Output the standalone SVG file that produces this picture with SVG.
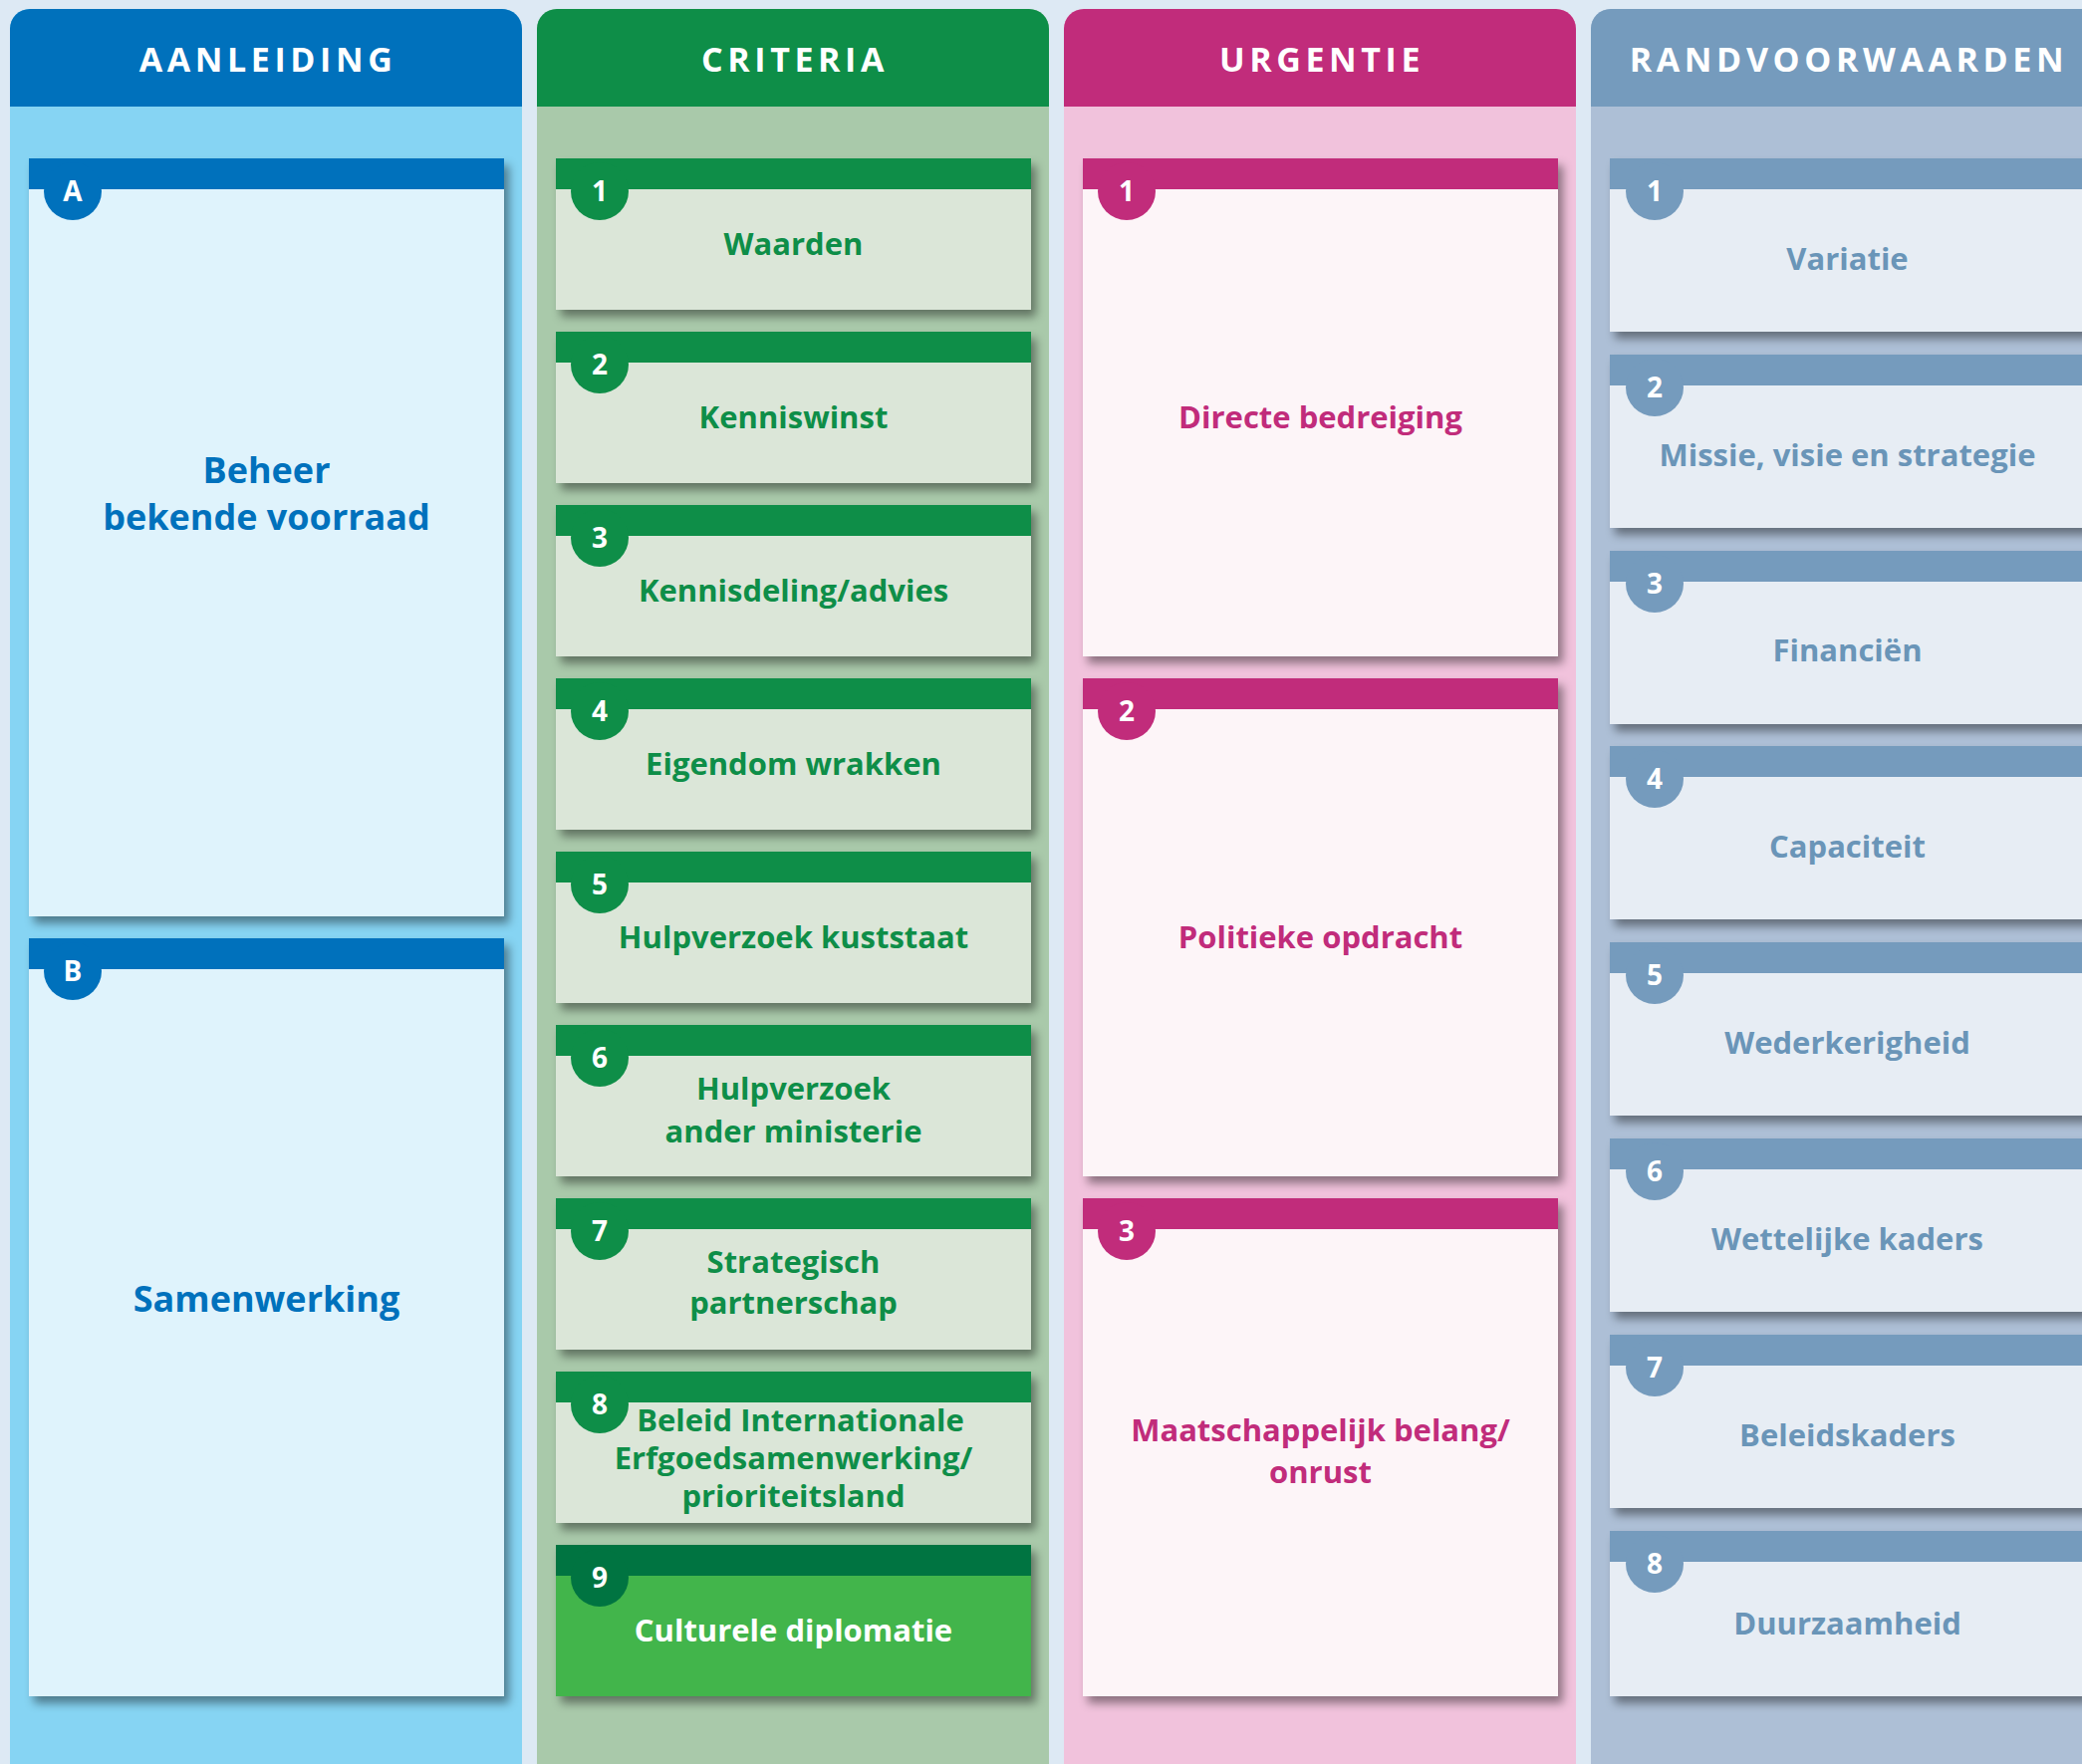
<svg xmlns="http://www.w3.org/2000/svg" width="2090" height="1771" viewBox="0 0 2090 1771">
<defs>
<style>
text{font-family:"Open Sans","Liberation Sans",sans-serif;font-weight:700;text-anchor:middle}
.hd{font-size:34px;letter-spacing:4.6px;fill:#fff}
.num{font-size:28px;fill:#fff}
.lb{font-size:31px}
.lb1{font-size:36px;fill:#0071bc}
.c1b{fill:#86d4f3}.c1h{fill:#0071bc}.c1c{fill:#dff3fc}
.c2b{fill:#a9c9aa}.c2h{fill:#0e8e48}.c2c{fill:#dbe6d8}
.c3b{fill:#f1c2dc}.c3h{fill:#c12c7b}.c3c{fill:#fdf5f8}
.c4b{fill:#adbfd6}.c4h{fill:#759bbd}.c4c{fill:#e7edf4}
.t2{fill:#0e8e48}.t3{fill:#c12c7b}.t4{fill:#6a95b8}
</style>
<filter id="sh" x="-10%" y="-10%" width="130%" height="140%">
<feDropShadow dx="5" dy="7" stdDeviation="5" flood-color="#000" flood-opacity="0.42"/>
</filter>
</defs>
<rect width="2090" height="1771" fill="#dde9f4"/>

<g id="col-aanleiding">
<path class="c1b" d="M10,1771V29A20,20 0 0 1 30,9H504A20,20 0 0 1 524,29V1771Z"/>
<path class="c1h" d="M10,107V29A20,20 0 0 1 30,9H504A20,20 0 0 1 524,29V107Z"/>
<text class="hd" x="269" y="72">AANLEIDING</text>
</g>
<g id="col-criteria">
<path class="c2b" d="M539,1771V29A20,20 0 0 1 559,9H1033A20,20 0 0 1 1053,29V1771Z"/>
<path class="c2h" d="M539,107V29A20,20 0 0 1 559,9H1033A20,20 0 0 1 1053,29V107Z"/>
<text class="hd" x="798" y="72">CRITERIA</text>
</g>
<g id="col-urgentie">
<path class="c3b" d="M1068,1771V29A20,20 0 0 1 1088,9H1562A20,20 0 0 1 1582,29V1771Z"/>
<path class="c3h" d="M1068,107V29A20,20 0 0 1 1088,9H1562A20,20 0 0 1 1582,29V107Z"/>
<text class="hd" x="1327" y="72">URGENTIE</text>
</g>
<g id="col-randvoorwaarden">
<path class="c4b" d="M1597,1771V29A20,20 0 0 1 1617,9H2091A20,20 0 0 1 2111,29V1771Z"/>
<path class="c4h" d="M1597,107V29A20,20 0 0 1 1617,9H2091A20,20 0 0 1 2111,29V107Z"/>
<text class="hd" x="1856" y="72">RANDVOORWAARDEN</text>
</g>

<g id="connectors"/>

<!-- Column 1 -->
<g id="a-A">
<rect class="c1c" x="29" y="159" width="477" height="761" filter="url(#sh)"/>
<rect class="c1h" x="29" y="159" width="477" height="31"/>
<circle class="c1h" cx="73" cy="192" r="29"/>
<text class="num" x="73" y="202">A</text>
<text class="lb1" x="267.5" y="485">Beheer</text>
<text class="lb1" x="267.5" y="532">bekende voorraad</text>
</g>
<g id="a-B">
<rect class="c1c" x="29" y="942" width="477" height="761" filter="url(#sh)"/>
<rect class="c1h" x="29" y="942" width="477" height="31"/>
<circle class="c1h" cx="73" cy="975" r="29"/>
<text class="num" x="73" y="985">B</text>
<text class="lb1" x="267.5" y="1317">Samenwerking</text>
</g>

<!-- Column 2 -->
<g id="c-1">
<rect class="c2c" x="558" y="159" width="477" height="152" filter="url(#sh)"/>
<rect class="c2h" x="558" y="159" width="477" height="31"/>
<circle class="c2h" cx="602" cy="192" r="29"/>
<text class="num" x="602" y="202">1</text>
<text class="lb t2" x="796.5" y="256">Waarden</text>
</g>
<g id="c-2">
<rect class="c2c" x="558" y="333" width="477" height="152" filter="url(#sh)"/>
<rect class="c2h" x="558" y="333" width="477" height="31"/>
<circle class="c2h" cx="602" cy="366" r="29"/>
<text class="num" x="602" y="376">2</text>
<text class="lb t2" x="796.5" y="430">Kenniswinst</text>
</g>
<g id="c-3">
<rect class="c2c" x="558" y="507" width="477" height="152" filter="url(#sh)"/>
<rect class="c2h" x="558" y="507" width="477" height="31"/>
<circle class="c2h" cx="602" cy="540" r="29"/>
<text class="num" x="602" y="550">3</text>
<text class="lb t2" x="796.5" y="604">Kennisdeling/advies</text>
</g>
<g id="c-4">
<rect class="c2c" x="558" y="681" width="477" height="152" filter="url(#sh)"/>
<rect class="c2h" x="558" y="681" width="477" height="31"/>
<circle class="c2h" cx="602" cy="714" r="29"/>
<text class="num" x="602" y="724">4</text>
<text class="lb t2" x="796.5" y="778">Eigendom wrakken</text>
</g>
<g id="c-5">
<rect class="c2c" x="558" y="855" width="477" height="152" filter="url(#sh)"/>
<rect class="c2h" x="558" y="855" width="477" height="31"/>
<circle class="c2h" cx="602" cy="888" r="29"/>
<text class="num" x="602" y="898">5</text>
<text class="lb t2" x="796.5" y="952">Hulpverzoek kuststaat</text>
</g>
<g id="c-6">
<rect class="c2c" x="558" y="1029" width="477" height="152" filter="url(#sh)"/>
<rect class="c2h" x="558" y="1029" width="477" height="31"/>
<circle class="c2h" cx="602" cy="1062" r="29"/>
<text class="num" x="602" y="1072">6</text>
<text class="lb t2" x="796.5" y="1104">Hulpverzoek</text>
<text class="lb t2" x="796.5" y="1147">ander ministerie</text>
</g>
<g id="c-7">
<rect class="c2c" x="558" y="1203" width="477" height="152" filter="url(#sh)"/>
<rect class="c2h" x="558" y="1203" width="477" height="31"/>
<circle class="c2h" cx="602" cy="1236" r="29"/>
<text class="num" x="602" y="1246">7</text>
<text class="lb t2" x="796.5" y="1278">Strategisch</text>
<text class="lb t2" x="796.5" y="1319">partnerschap</text>
</g>
<g id="c-8">
<rect class="c2c" x="558" y="1377" width="477" height="152" filter="url(#sh)"/>
<rect class="c2h" x="558" y="1377" width="477" height="31"/>
<circle class="c2h" cx="602" cy="1410" r="29"/>
<text class="num" x="602" y="1420">8</text>
<text class="lb t2" x="803.5" y="1437">Beleid Internationale</text>
<text class="lb t2" x="796.5" y="1475">Erfgoedsamenwerking/</text>
<text class="lb t2" x="796.5" y="1513">prioriteitsland</text>
</g>
<g id="c-9">
<rect x="558" y="1551" width="477" height="152" fill="#43b54b" filter="url(#sh)"/>
<rect x="558" y="1551" width="477" height="31" fill="#007441"/>
<circle cx="602" cy="1584" r="29" fill="#007441"/>
<text class="num" x="602" y="1594">9</text>
<text class="lb" x="796.5" y="1648" fill="#fff">Culturele diplomatie</text>
</g>

<!-- Column 3 -->
<g id="u-1">
<rect class="c3c" x="1087" y="159" width="477" height="500" filter="url(#sh)"/>
<rect class="c3h" x="1087" y="159" width="477" height="31"/>
<circle class="c3h" cx="1131" cy="192" r="29"/>
<text class="num" x="1131" y="202">1</text>
<text class="lb t3" x="1325.5" y="430">Directe bedreiging</text>
</g>
<g id="u-2">
<rect class="c3c" x="1087" y="681" width="477" height="500" filter="url(#sh)"/>
<rect class="c3h" x="1087" y="681" width="477" height="31"/>
<circle class="c3h" cx="1131" cy="714" r="29"/>
<text class="num" x="1131" y="724">2</text>
<text class="lb t3" x="1325.5" y="952">Politieke opdracht</text>
</g>
<g id="u-3">
<rect class="c3c" x="1087" y="1203" width="477" height="500" filter="url(#sh)"/>
<rect class="c3h" x="1087" y="1203" width="477" height="31"/>
<circle class="c3h" cx="1131" cy="1236" r="29"/>
<text class="num" x="1131" y="1246">3</text>
<text class="lb t3" x="1325.5" y="1447">Maatschappelijk belang/</text>
<text class="lb t3" x="1325.5" y="1489">onrust</text>
</g>

<!-- Column 4 -->
<g id="r-1">
<rect class="c4c" x="1616" y="159" width="477" height="174" filter="url(#sh)"/>
<rect class="c4h" x="1616" y="159" width="477" height="31"/>
<circle class="c4h" cx="1661" cy="192" r="29"/>
<text class="num" x="1661" y="202">1</text>
<text class="lb t4" x="1854.5" y="271">Variatie</text>
</g>
<g id="r-2">
<rect class="c4c" x="1616" y="356" width="477" height="174" filter="url(#sh)"/>
<rect class="c4h" x="1616" y="356" width="477" height="31"/>
<circle class="c4h" cx="1661" cy="389" r="29"/>
<text class="num" x="1661" y="399">2</text>
<text class="lb t4" x="1854.5" y="468">Missie, visie en strategie</text>
</g>
<g id="r-3">
<rect class="c4c" x="1616" y="553" width="477" height="174" filter="url(#sh)"/>
<rect class="c4h" x="1616" y="553" width="477" height="31"/>
<circle class="c4h" cx="1661" cy="586" r="29"/>
<text class="num" x="1661" y="596">3</text>
<text class="lb t4" x="1854.5" y="664">Financiën</text>
</g>
<g id="r-4">
<rect class="c4c" x="1616" y="749" width="477" height="174" filter="url(#sh)"/>
<rect class="c4h" x="1616" y="749" width="477" height="31"/>
<circle class="c4h" cx="1661" cy="782" r="29"/>
<text class="num" x="1661" y="792">4</text>
<text class="lb t4" x="1854.5" y="861">Capaciteit</text>
</g>
<g id="r-5">
<rect class="c4c" x="1616" y="946" width="477" height="174" filter="url(#sh)"/>
<rect class="c4h" x="1616" y="946" width="477" height="31"/>
<circle class="c4h" cx="1661" cy="979" r="29"/>
<text class="num" x="1661" y="989">5</text>
<text class="lb t4" x="1854.5" y="1058">Wederkerigheid</text>
</g>
<g id="r-6">
<rect class="c4c" x="1616" y="1143" width="477" height="174" filter="url(#sh)"/>
<rect class="c4h" x="1616" y="1143" width="477" height="31"/>
<circle class="c4h" cx="1661" cy="1176" r="29"/>
<text class="num" x="1661" y="1186">6</text>
<text class="lb t4" x="1854.5" y="1255">Wettelijke kaders</text>
</g>
<g id="r-7">
<rect class="c4c" x="1616" y="1340" width="477" height="174" filter="url(#sh)"/>
<rect class="c4h" x="1616" y="1340" width="477" height="31"/>
<circle class="c4h" cx="1661" cy="1373" r="29"/>
<text class="num" x="1661" y="1383">7</text>
<text class="lb t4" x="1854.5" y="1452">Beleidskaders</text>
</g>
<g id="r-8">
<rect class="c4c" x="1616" y="1537" width="477" height="166" filter="url(#sh)"/>
<rect class="c4h" x="1616" y="1537" width="477" height="31"/>
<circle class="c4h" cx="1661" cy="1570" r="29"/>
<text class="num" x="1661" y="1580">8</text>
<text class="lb t4" x="1854.5" y="1641">Duurzaamheid</text>
</g>
</svg>
